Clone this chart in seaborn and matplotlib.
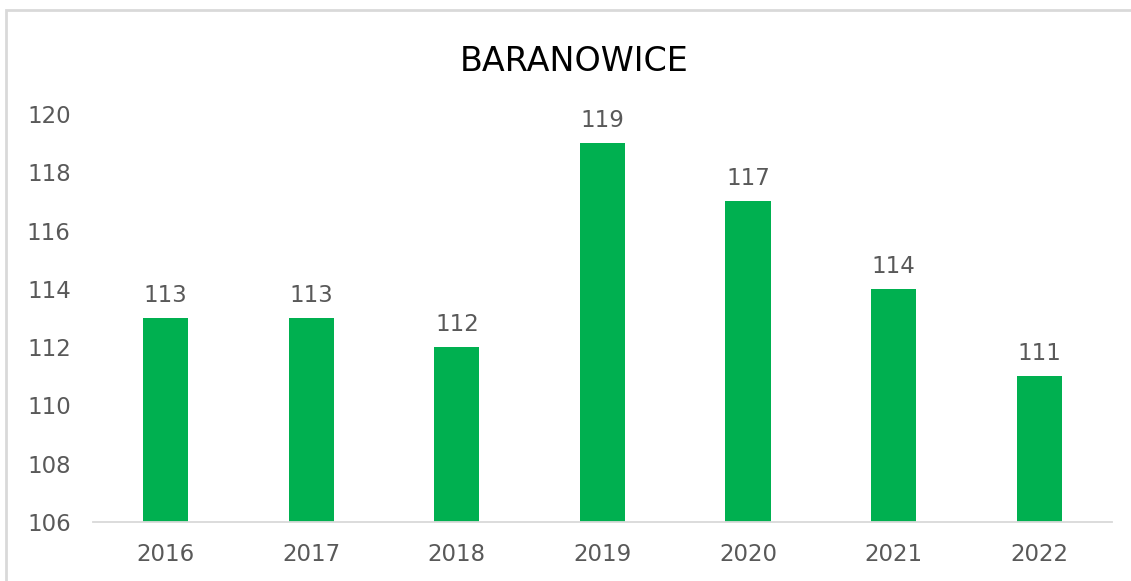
import matplotlib.pyplot as plt
import pandas as pd
import seaborn as sns
from matplotlib.patches import Rectangle

years = ["2016", "2017", "2018", "2019", "2020", "2021", "2022"]
values = [113, 113, 112, 119, 117, 114, 111]
y_ticks = [106, 108, 110, 112, 114, 116, 118, 120]

BAR_COLOR = "#00B050"
TEXT_GRAY = "#595959"
LINE_GRAY = "#D9D9D9"

sns.set_theme(style="white")
plt.rcParams["font.family"] = ["DejaVu Sans"]

frame = pd.DataFrame({"year": years, "value": values})

fig = plt.figure(figsize=(11.31, 5.81), dpi=100)
ax = fig.add_axes([0.0822, 0.1015, 0.9010, 0.7023])

sns.barplot(data=frame, x="year", y="value", color=BAR_COLOR, width=0.31,
            saturation=1, linewidth=0, ax=ax)

ax.set_ylim(y_ticks[0], y_ticks[-1])
ax.set_yticks(y_ticks)
ax.set_xlabel("")
ax.set_ylabel("")
ax.tick_params(axis="both", length=0, labelsize=16.5, labelcolor=TEXT_GRAY)
ax.tick_params(axis="y", pad=16)
ax.tick_params(axis="x", pad=15)
for side in ["left", "right", "top"]:
    ax.spines[side].set_visible(False)
ax.spines["bottom"].set_color(LINE_GRAY)
ax.spines["bottom"].set_linewidth(1.3)

for container in ax.containers:
    ax.bar_label(container, labels=[str(v) for v in values], padding=8,
                 fontsize=16.5, color=TEXT_GRAY)

fig.text(0.5075, 0.895, "BARANOWICE", ha="center", va="center",
         fontsize=24, color="#000000")

# chart-area border (right and bottom edges fall outside the image)
fig.patches.append(Rectangle((6 / 1131, -0.05), 1.2, 1 - 10 / 581 + 0.05,
                             transform=fig.transFigure, fill=False,
                             edgecolor=LINE_GRAY, linewidth=2))

fig.savefig("out.png", dpi=100)
